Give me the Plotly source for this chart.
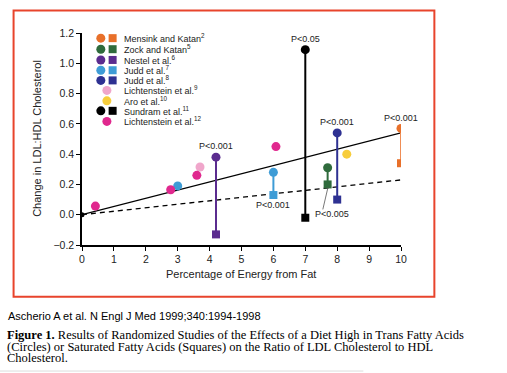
import plotly.graph_objects as go

# ---------------- data ----------------
# paired studies: trans (circle) vs saturated (square) at same % energy
mensink_x = [10.0]; mensink_trans = [0.57]; mensink_sat = [0.34]
zock_x = [7.7];     zock_trans = [0.31];    zock_sat = [0.20]
nestel_x = [4.2];   nestel_trans = [0.38];  nestel_sat = [-0.13]
judd7_x = [6.0];    judd7_trans = [0.28];   judd7_sat = [0.13]
judd7b_x = [3.0];   judd7b_trans = [0.19]
judd8_x = [8.0];    judd8_trans = [0.54];   judd8_sat = [0.10]
sundram_x = [7.0];  sundram_trans = [1.09]; sundram_sat = [-0.02]
# trans-only studies
licht9_x = [3.7];   licht9_trans = [0.315]
aro_x = [8.3];      aro_trans = [0.40]
licht12_x = [0.42, 2.78, 3.6, 6.08]; licht12_trans = [0.057, 0.165, 0.26, 0.45]
# fitted lines
fit_x = [0, 10]
trans_fit = [0, 0.54]
sat_fit = [0, 0.23]

legend_names = ["Mensink and Katan<sup>2</sup>", "Zock and Katan<sup>5</sup>",
                "Nestel et al.<sup>6</sup>", "Judd et al.<sup>7</sup>",
                "Judd et al.<sup>8</sup>", "Lichtenstein et al.<sup>9</sup>",
                "Aro et al.<sup>10</sup>", "Sundram et al.<sup>11</sup>",
                "Lichtenstein et al.<sup>12</sup>"]
legend_has_square = [True, True, True, True, True, False, False, True, False]

ORANGE = "#e8702a"; GREEN = "#2f6b3c"; PURPLE = "#5b2c8f"; LBLUE = "#3e9cd6"
DBLUE = "#2e3192"; LPINK = "#f0a6cb"; YELLOW = "#f7cd3c"; BLACK = "#000000"
MAGENTA = "#e0288e"
legend_colors = [ORANGE, GREEN, PURPLE, LBLUE, DBLUE, LPINK, YELLOW, BLACK, MAGENTA]

fig = go.Figure()

# regression lines
fig.add_trace(go.Scatter(x=fit_x, y=trans_fit, mode="lines",
                         line=dict(color="black", width=1.3), hoverinfo="skip"))
fig.add_trace(go.Scatter(x=fit_x, y=sat_fit, mode="lines",
                         line=dict(color="black", width=1.3, dash="5px,4px"), hoverinfo="skip"))
fig.add_trace(go.Scatter(x=[0], y=[0], mode="markers",
                         marker=dict(color="black", size=5), hoverinfo="skip"))

pairs = [
    (mensink_x, mensink_trans, mensink_sat, ORANGE, "#ef8d55"),
    (zock_x, zock_trans, zock_sat, GREEN, GREEN),
    (nestel_x, nestel_trans, nestel_sat, PURPLE, PURPLE),
    (judd7_x, judd7_trans, judd7_sat, LBLUE, LBLUE),
    (judd8_x, judd8_trans, judd8_sat, DBLUE, DBLUE),
    (sundram_x, sundram_trans, sundram_sat, BLACK, BLACK),
]
for xs, tr, sa, col, lcol in pairs:
    fig.add_trace(go.Scatter(x=[xs[0], xs[0]], y=[tr[0], sa[0]], mode="lines",
                             line=dict(color=lcol, width=2), hoverinfo="skip"))
for xs, tr, sa, col, lcol in pairs:
    fig.add_trace(go.Scatter(x=xs, y=sa, mode="markers",
                             marker=dict(color=col, size=8, symbol="square"), hoverinfo="skip"))
    fig.add_trace(go.Scatter(x=xs, y=tr, mode="markers",
                             marker=dict(color=col, size=9), hoverinfo="skip"))

for xs, tr, col in [(judd7b_x, judd7b_trans, LBLUE), (licht9_x, licht9_trans, LPINK),
                    (aro_x, aro_trans, YELLOW), (licht12_x, licht12_trans, MAGENTA)]:
    fig.add_trace(go.Scatter(x=xs, y=tr, mode="markers",
                             marker=dict(color=col, size=9), hoverinfo="skip"))

# legend (drawn inside plot)
leg_y = [1.166, 1.093, 1.022, 0.954, 0.887, 0.821, 0.752, 0.686, 0.616]
for i, name in enumerate(legend_names):
    col = legend_colors[i]
    if legend_has_square[i]:
        fig.add_trace(go.Scatter(x=[0.59], y=[leg_y[i]], mode="markers",
                                 marker=dict(color=col, size=9), hoverinfo="skip"))
        fig.add_trace(go.Scatter(x=[0.96], y=[leg_y[i]], mode="markers",
                                 marker=dict(color=col, size=8, symbol="square"), hoverinfo="skip"))
    else:
        fig.add_trace(go.Scatter(x=[0.78], y=[leg_y[i]], mode="markers",
                                 marker=dict(color=col, size=9), hoverinfo="skip"))
    fig.add_annotation(x=1.26, y=leg_y[i], text=name, showarrow=False, xanchor="left",
                       yanchor="middle", font=dict(size=9, color="#222"))

# P-value labels
ann = [(4.2, 0.455, "P<0.001"), (7.0, 1.16, "P<0.05"), (8.0, 0.61, "P<0.001"),
       (10.0, 0.64, "P<0.001"), (6.0, 0.066, "P<0.001"), (7.83, 0.007, "P<0.005")]
for x, y, t in ann:
    fig.add_annotation(x=x, y=y, text=t, showarrow=False, xanchor="center",
                       yanchor="middle", font=dict(size=9, color="#222"))
fig.add_shape(type="line", x0=7.71, y0=0.18, x1=7.55, y1=0.035,
              line=dict(color="#555", width=0.8))

# frame
fig.add_shape(type="rect", xref="paper", yref="paper", x0=-0.2145, x1=1.1046,
              y0=-0.2442, y1=1.1067, line=dict(color="#e8442c", width=2), layer="below")

# axis titles
fig.add_annotation(xref="paper", yref="paper", x=0.498, y=-0.137, xanchor="center",
                   yanchor="middle", text="Percentage of Energy from Fat", showarrow=False,
                   font=dict(size=11, color="#222"))
fig.add_annotation(xref="paper", yref="paper", x=-0.1413, y=0.505, textangle=-90,
                   xanchor="center", yanchor="middle",
                   text="Change in LDL:HDL Cholesterol", showarrow=False,
                   font=dict(size=11, color="#222"))

# citation & caption
fig.add_annotation(xref="paper", yref="paper", x=-0.2396, y=-0.334, xanchor="left",
                   yanchor="middle", showarrow=False,
                   text="Ascherio A et al. N Engl J Med 1999;340:1994-1998",
                   font=dict(family="Liberation Sans", size=11, color="black"))
cap = ["<b>Figure 1.</b> Results of Randomized Studies of the Effects of a Diet High in Trans Fatty Acids",
       "(Circles) or Saturated Fatty Acids (Squares) on the Ratio of LDL Cholesterol to HDL",
       "Cholesterol."]
cap_y = [-0.4237, -0.4795, -0.5347]
for t, y in zip(cap, cap_y):
    fig.add_annotation(xref="paper", yref="paper", x=-0.2427, y=y, xanchor="left",
                       yanchor="middle", showarrow=False, text=t,
                       font=dict(family="Liberation Serif", size=12.5, color="black"))
fig.add_shape(type="line", xref="paper", yref="paper", x0=-0.2585, x1=0.882,
              y0=-0.5945, y1=-0.5945, line=dict(color="#dddddd", width=1))

fig.update_layout(
    width=507, height=373, showlegend=False,
    margin=dict(l=82.3, r=106.3, t=33.3, b=128, pad=0),
    paper_bgcolor="white", plot_bgcolor="white",
    font=dict(family="Liberation Sans, Arial", color="#222"),
    xaxis=dict(range=[0, 10], tickvals=list(range(11)), showgrid=False, zeroline=False,
               showline=True, linecolor="black", linewidth=1.5, ticks="outside",
               ticklen=4, tickcolor="black", tickfont=dict(size=10.5)),
    yaxis=dict(range=[-0.2, 1.2], tickvals=[-0.2, 0, 0.2, 0.4, 0.6, 0.8, 1.0, 1.2],
               tickformat=".1f", showgrid=False, zeroline=False,
               showline=True, linecolor="black", linewidth=1.5, ticks="outside",
               ticklen=4, tickcolor="black", tickfont=dict(size=10.5)),
)

fig.write_html("out.html", config={"displayModeBar": False},
               post_script="document.body.style.margin='0';document.body.style.overflow='hidden';")
